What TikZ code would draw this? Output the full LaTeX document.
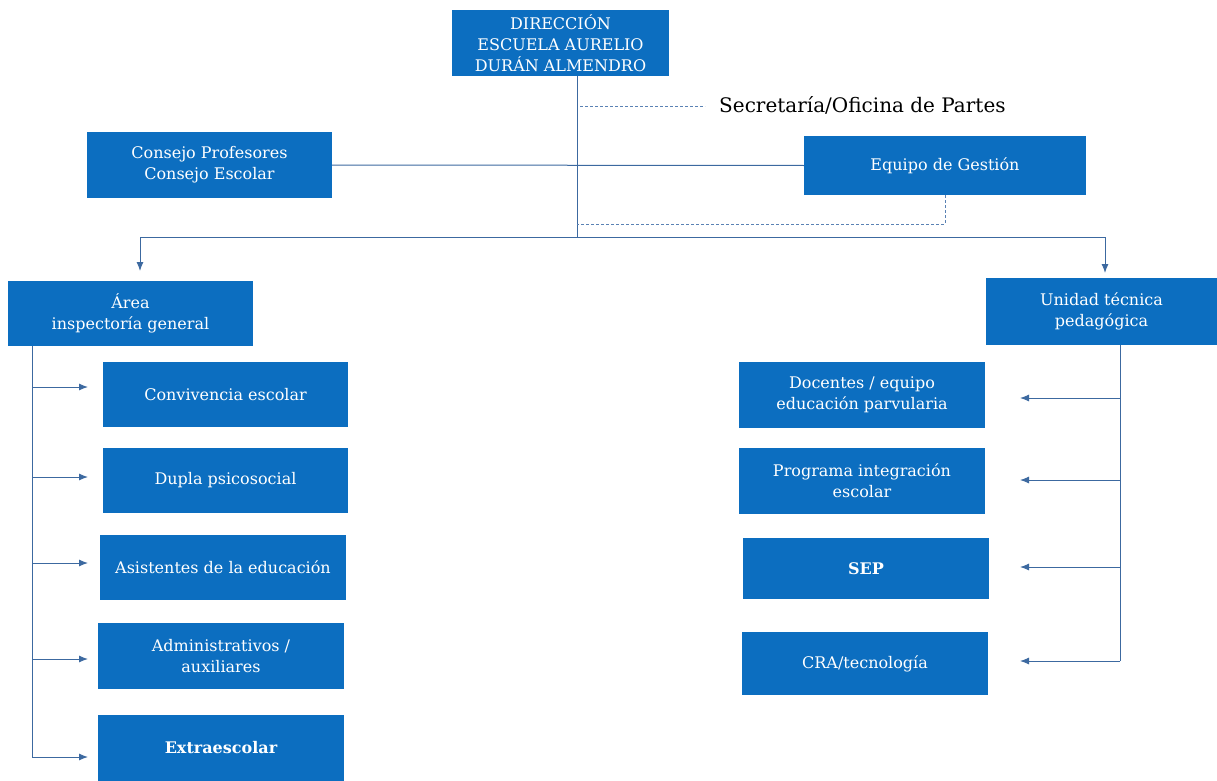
\documentclass[tikz,border=0pt]{standalone}
\usepackage{fontspec}
\setmainfont{DejaVu Serif}
\usetikzlibrary{arrows.meta}
\definecolor{boxblue}{RGB}{12,110,192}
\definecolor{linecol}{RGB}{60,105,160}
\definecolor{dashcol}{RGB}{90,130,180}
\begin{document}
\begin{tikzpicture}[x=1pt,y=-1pt,
  box/.style={fill=boxblue,draw=none,text=white,align=center,font=\fontsize{16}{21}\selectfont,inner sep=0pt},
  conn/.style={draw=linecol,line width=1pt},
  dconn/.style={draw=dashcol,line width=1pt,dash pattern=on 3pt off 2pt},
  arr/.style={conn,-{Latex[length=9pt,width=7pt]}}]
\useasboundingbox[fill=white] (0,0) rectangle (1217,781);
% boxes
\node[box,minimum width=217pt,minimum height=66pt] (dir) at (560.5,43) {DIRECCIÓN\\ESCUELA AURELIO\\DURÁN ALMENDRO};
\node[box,minimum width=245pt,minimum height=66pt] (cons) at (209.5,165) {Consejo Profesores\\Consejo Escolar};
\node[box,minimum width=282pt,minimum height=59pt] (eq) at (945,165.5) {Equipo de Gestión};
\node[box,minimum width=245pt,minimum height=65pt] (area) at (130.5,313.5) {Área\\inspectoría general};
\node[box,minimum width=231pt,minimum height=67pt] (utp) at (1101.5,311.5) {Unidad técnica\\pedagógica};
\node[box,minimum width=245pt,minimum height=65pt] (conv) at (225.5,394.5) {Convivencia escolar};
\node[box,minimum width=245pt,minimum height=65pt] (dupla) at (225.5,480.5) {Dupla psicosocial};
\node[box,minimum width=246pt,minimum height=65pt] (asis) at (223,567.5) {Asistentes de la educación};
\node[box,minimum width=246pt,minimum height=66pt] (adm) at (221,656) {Administrativos /\\auxiliares};
\node[box,minimum width=246pt,minimum height=66pt,font=\fontsize{16}{21}\selectfont\bfseries] (extra) at (221,748) {Extraescolar};
\node[box,minimum width=246pt,minimum height=66pt] (doc) at (862,395) {Docentes / equipo\\educación parvularia};
\node[box,minimum width=246pt,minimum height=66pt] (pie) at (862,481) {Programa integración\\escolar};
\node[box,minimum width=246pt,minimum height=61pt,font=\fontsize{16}{21}\selectfont\bfseries] (sep) at (866,568.5) {SEP};
\node[box,minimum width=246pt,minimum height=63pt] (cra) at (865,663.5) {CRA/tecnología};
% secretaria
\node[anchor=west,inner sep=0pt,font=\fontsize{20}{24}\selectfont] (secr) at (719,105) {Secretaría/Oficina de Partes};
% coordinates
\coordinate (top) at (577,76);
\coordinate (hub) at (577,237);
\coordinate (ds) at (580,107);
\coordinate (de) at (705,107);
\coordinate (dl) at (577,224);
\coordinate (hl) at (140,237);
\coordinate (hr) at (1105,237);
% main lines
\draw[conn] (top) -- (hub);
\draw[conn] (cons.east) -- (eq.west);
\draw[dconn] (ds) -- (de);
\draw[dconn] (eq.south) -- (945,224) -- (dl);
\draw[conn] (hl) -- (hr);
\draw[arr] (hl) -- (140,271);
\draw[arr] (hr) -- (1105,273);
% left branch
\draw[conn] (32,346) -- (32,757);
\foreach \n/\y in {conv/387,dupla/477,asis/563,adm/659,extra/757}{
  \draw[arr] (32,\y) -- (88,\y);
}
% right branch
\draw[conn] (1120,345) -- (1120,661);
\foreach \n/\y in {doc/398,pie/480,sep/567,cra/661}{
  \draw[arr] (1120,\y) -- (1020,\y);
}
\end{tikzpicture}
\end{document}
